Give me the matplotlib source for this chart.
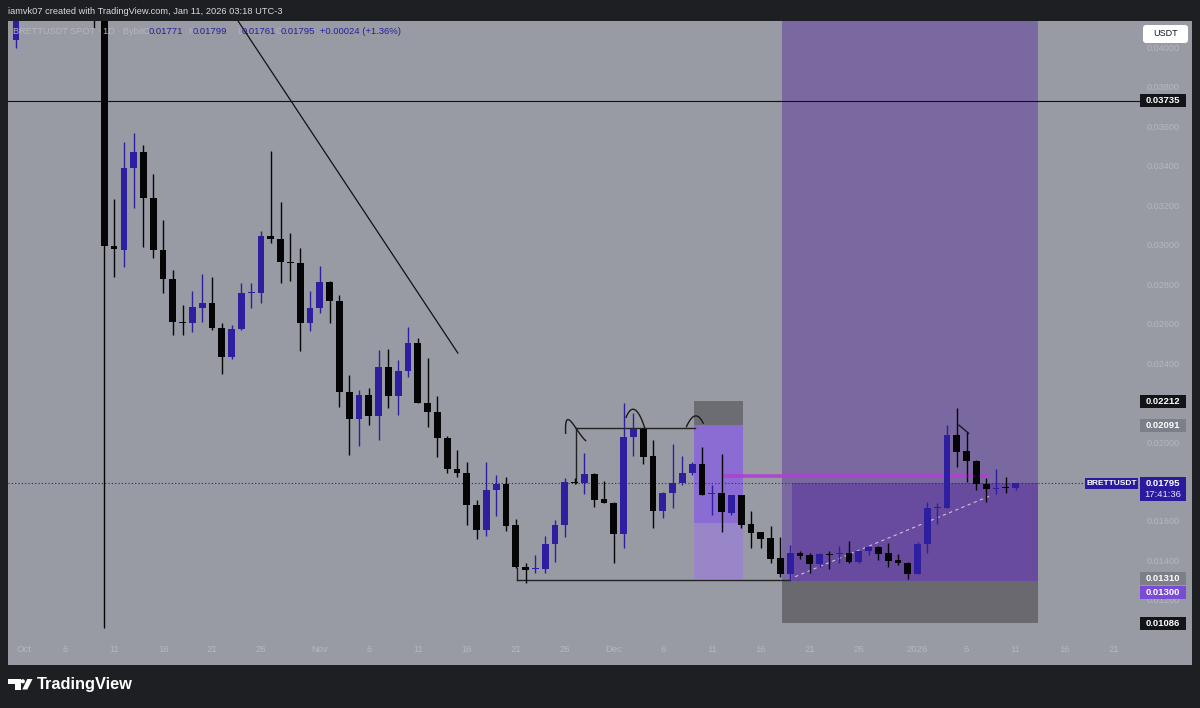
import numpy as np
import pandas as pd
import matplotlib
matplotlib.use("Agg")
import matplotlib.pyplot as plt
from matplotlib.patches import Rectangle, Polygon, Circle, FancyBboxPatch
import matplotlib.transforms as mtransforms

plt.rcParams['font.family'] = ['Liberation Sans', 'DejaVu Sans']

# daily candles BRETTUSDT (Bybit)
dates = ['2025-10-01', '2025-10-09'] + \
    [str(d.date()) for d in pd.date_range('2025-10-10', '2026-01-11')]
opens = [0.04043, 0.04400, 0.04300, 0.03000, 0.02980, 0.03396, 0.03474, 0.03241, 0.02979, 0.02830,
         0.02615, 0.02610, 0.02686, 0.02711, 0.02582, 0.02435, 0.02580, 0.02759, 0.02762, 0.03049,
         0.03033, 0.02919, 0.02911, 0.02607, 0.02686, 0.02816, 0.02720, 0.02259, 0.02120, 0.02243,
         0.02137, 0.02387, 0.02240, 0.02365, 0.02505, 0.02204, 0.02159, 0.02024, 0.01868, 0.01849,
         0.01686, 0.01559, 0.01762, 0.01791, 0.01584, 0.01373, 0.01360, 0.01360, 0.01488, 0.01583,
         0.01804, 0.01796, 0.01843, 0.01715, 0.01697, 0.01537, 0.02029, 0.02069, 0.01934, 0.01657,
         0.01745, 0.01796, 0.01846, 0.01892, 0.01740, 0.01745, 0.01647, 0.01736, 0.01589, 0.01547,
         0.01518, 0.01415, 0.01334, 0.01444, 0.01432, 0.01385, 0.01437, 0.01437, 0.01441, 0.01398,
         0.01452, 0.01471, 0.01444, 0.01407, 0.01393, 0.01336, 0.01488, 0.01669, 0.01672, 0.02041,
         0.01959, 0.01909, 0.01792, 0.01765, 0.01775, 0.01771]
highs = [0.04300, 0.04500, 0.04450, 0.03237, 0.03528, 0.03570, 0.03511, 0.03362, 0.03131, 0.02877,
         0.02700, 0.02771, 0.02855, 0.02843, 0.02610, 0.02598, 0.02813, 0.02813, 0.03076, 0.03480,
         0.03220, 0.03066, 0.02990, 0.02771, 0.02897, 0.02821, 0.02749, 0.02345, 0.02269, 0.02279,
         0.02472, 0.02475, 0.02421, 0.02587, 0.02531, 0.02432, 0.02238, 0.02035, 0.01965, 0.01905,
         0.01711, 0.01902, 0.01838, 0.01829, 0.01615, 0.01390, 0.01432, 0.01529, 0.01610, 0.01824,
         0.01823, 0.01948, 0.01846, 0.01809, 0.01702, 0.02204, 0.02151, 0.02078, 0.02015, 0.01753,
         0.01993, 0.01934, 0.01905, 0.01981, 0.01787, 0.01944, 0.01736, 0.01738, 0.01655, 0.01547,
         0.01581, 0.01525, 0.01483, 0.01454, 0.01441, 0.01441, 0.01454, 0.01479, 0.01503, 0.01458,
         0.01478, 0.01478, 0.01491, 0.01437, 0.01398, 0.01497, 0.01702, 0.01698, 0.02091, 0.02176,
         0.02054, 0.01914, 0.01821, 0.01867, 0.01829, 0.01799]
lows = [0.04003, 0.04104, 0.01062, 0.02842, 0.02894, 0.03190, 0.02995, 0.02936, 0.02759, 0.02548,
        0.02548, 0.02561, 0.02612, 0.02573, 0.02350, 0.02424, 0.02573, 0.02683, 0.02711, 0.03016,
        0.02810, 0.02823, 0.02468, 0.02569, 0.02658, 0.02607, 0.02184, 0.01939, 0.01985, 0.02091,
        0.02015, 0.02176, 0.02142, 0.02336, 0.02201, 0.02083, 0.01931, 0.01849, 0.01829, 0.01584,
        0.01512, 0.01529, 0.01630, 0.01555, 0.01368, 0.01289, 0.01342, 0.01339, 0.01398, 0.01522,
        0.01790, 0.01741, 0.01677, 0.01694, 0.01393, 0.01466, 0.01934, 0.01894, 0.01571, 0.01618,
        0.01669, 0.01787, 0.01840, 0.01736, 0.01635, 0.01550, 0.01635, 0.01568, 0.01466, 0.01466,
        0.01393, 0.01322, 0.01305, 0.01412, 0.01342, 0.01373, 0.01360, 0.01393, 0.01393, 0.01393,
        0.01432, 0.01407, 0.01370, 0.01381, 0.01309, 0.01336, 0.01441, 0.01589, 0.01669, 0.01880,
        0.01804, 0.01762, 0.01702, 0.01740, 0.01745, 0.01761]
closes = [0.04250, 0.04300, 0.03000, 0.02982, 0.03396, 0.03474, 0.03241, 0.02979, 0.02830, 0.02615,
          0.02610, 0.02688, 0.02711, 0.02582, 0.02435, 0.02580, 0.02762, 0.02764, 0.03051, 0.03033,
          0.02916, 0.02911, 0.02607, 0.02686, 0.02816, 0.02720, 0.02259, 0.02120, 0.02243, 0.02137,
          0.02387, 0.02240, 0.02365, 0.02505, 0.02204, 0.02159, 0.02024, 0.01868, 0.01849, 0.01686,
          0.01559, 0.01762, 0.01791, 0.01581, 0.01370, 0.01356, 0.01363, 0.01488, 0.01584, 0.01804,
          0.01796, 0.01843, 0.01711, 0.01694, 0.01537, 0.02032, 0.02069, 0.01931, 0.01657, 0.01745,
          0.01799, 0.01848, 0.01892, 0.01736, 0.01745, 0.01652, 0.01736, 0.01584, 0.01545, 0.01513,
          0.01410, 0.01334, 0.01444, 0.01429, 0.01385, 0.01436, 0.01432, 0.01444, 0.01398, 0.01454,
          0.01471, 0.01437, 0.01403, 0.01390, 0.01336, 0.01488, 0.01669, 0.01674, 0.02041, 0.01956,
          0.01909, 0.01792, 0.01765, 0.01773, 0.01771, 0.01795]

# grid labels on the price scale (0.022 and 0.018 sit under the tags)
price_ticks = [0.040, 0.038, 0.036, 0.034, 0.032, 0.030, 0.028, 0.026, 0.024,
               0.020, 0.016, 0.014, 0.012]
time_ticks = ['2025-10-01', '2025-10-06', '2025-10-11', '2025-10-16', '2025-10-21', '2025-10-26',
              '2025-11-01', '2025-11-06', '2025-11-11', '2025-11-16', '2025-11-21', '2025-11-26',
              '2025-12-01', '2025-12-06', '2025-12-11', '2025-12-16', '2025-12-21', '2025-12-26',
              '2026-01-01', '2026-01-06', '2026-01-11', '2026-01-16', '2026-01-21']
time_labels = ['Oct', '6', '11', '16', '21', '26', 'Nov', '6', '11', '16', '21', '26',
               'Dec', '6', '11', '16', '21', '26', '2026', '6', '11', '16', '21']

# drawings (date, price)
hline_price = 0.03735
trend = [('2025-10-23 15:00', 0.04142), ('2025-11-15 02:00', 0.02456)]
range_top = [('2025-11-27 03:00', 0.02076), ('2025-12-09 07:00', 0.02076)]
range_bot = [('2025-11-21 02:00', 0.01305), ('2025-12-19 00:00', 0.01305)]
humps = [[('2025-11-26 02:00', 0.02049), ('2025-11-26 08:00', 0.02119), ('2025-11-27 03:00', 0.02076), ('2025-11-28 03:00', 0.02012)],
         [('2025-12-02 06:00', 0.02130), ('2025-12-03 00:00', 0.02171), ('2025-12-03 16:00', 0.02137), ('2025-12-04 04:00', 0.02075)],
         [('2025-12-08 10:00', 0.02083), ('2025-12-09 07:00', 0.02137), ('2025-12-10 03:00', 0.02100)],
         [('2026-01-05 05:00', 0.02091), ('2026-01-06 05:00', 0.02049)]]
short_box = ('2025-12-09 04:00', '2025-12-14 04:00', 0.02212, 0.02091, 0.01593, 0.01310)
long_box = ('2025-12-18 04:00', '2026-01-13 07:00', 0.01086, 0.01300, 0.01795)
magenta = ('2025-12-12 03:00', '2026-01-08 02:00', 0.01833)
last_price = 0.01795

BULL = '#2e1ea0'
BEAR = '#050505'
BG = '#989ba3'
DARK = '#1e1f22'

day0 = pd.Timestamp('2025-10-01')
def dd(s):
    return (pd.Timestamp(s) - day0) / pd.Timedelta(days=1)

days = np.array([dd(d) for d in dates])
o = np.array(opens); h = np.array(highs); l = np.array(lows); c = np.array(closes)

fig = plt.figure(figsize=(12, 7.08), dpi=100, facecolor=DARK)
ax = fig.add_axes([8/1200, 43/708, 1184/1200, 644/708])
ax.set_facecolor(BG)
ax.set_xlim(-0.82, 120.0)
ax.set_ylim(0.008745, 0.041395)
ax.set_xticks([]); ax.set_yticks([])
for s in ax.spines.values():
    s.set_visible(False)
tr = mtransforms.blended_transform_factory(ax.transAxes, ax.transData)
px = mtransforms.Affine2D().scale(1/1200, -1/708).translate(0, 1) + fig.transFigure

# position tools
x0, x1, stop, entry, mid, target = short_box
ax.add_patch(Rectangle((dd(x0), entry), dd(x1)-dd(x0), stop-entry, fc='#6c6d72', ec='none', zorder=1))
ax.add_patch(Rectangle((dd(x0), mid), dd(x1)-dd(x0), entry-mid, fc='#8b6cd3', ec='none', zorder=1))
ax.add_patch(Rectangle((dd(x0), target), dd(x1)-dd(x0), mid-target, fc='#9886c9', ec='none', zorder=1))
x0, x1, stop, entry, cur = long_box
ax.add_patch(Rectangle((dd(x0), stop), dd(x1)-dd(x0), entry-stop, fc='#69696f', ec='none', zorder=1))
ax.add_patch(Rectangle((dd(x0), entry), dd(x1)-dd(x0), 0.05-entry, fc='#7a68a0', ec='none', zorder=1))
ax.add_patch(Rectangle((dd(x0)+1.05, entry), dd(x1)-dd(x0)-1.05, cur-entry, fc='#684a9e', ec='none', zorder=1))
ax.plot([dd('2025-12-19 12:00'), dd('2026-01-08 14:00')], [0.01322, 0.01736],
        color='#c9c6dc', lw=0.8, ls=(0, (3, 3)), zorder=2)
ax.plot([dd(magenta[0]), dd(magenta[1])], [magenta[2]]*2, color='#b03fd2', lw=2.6, alpha=0.9, zorder=2)

# lines
ax.plot([0, 0.956], [hline_price]*2, transform=tr, color='#111', lw=0.8, zorder=2)
ax.plot([0, 0.9096], [last_price]*2, transform=tr, color='#2b1ca0', lw=0.8, ls=(0, (1, 2)), zorder=2)
ax.plot([dd(p[0]) for p in trend], [p[1] for p in trend], color='#111', lw=0.9, zorder=2)
ax.plot([dd(p[0]) for p in range_top], [p[1] for p in range_top], color='#222', lw=1.0, zorder=2)
ax.plot([dd(p[0]) for p in range_bot], [p[1] for p in range_bot], color='#222', lw=1.0, zorder=2)
ax.plot([dd(range_bot[0][0])]*2, [0.01368, range_bot[0][1]], color='#222', lw=1.0, zorder=2)
ax.plot([dd(range_top[0][0])]*2, [range_top[0][1], 0.01797], color='#222', lw=1.0, zorder=2)
for hm in humps:
    xs = np.array([dd(p[0]) for p in hm]); ys = np.array([p[1] for p in hm])
    t = np.linspace(0, 1, 40)
    tk = np.linspace(0, 1, len(xs))
    if len(xs) > 2:
        xi = np.polyval(np.polyfit(tk, xs, len(xs)-1), t)
        yi = np.polyval(np.polyfit(tk, ys, len(xs)-1), t)
    else:
        xi, yi = xs, ys
    ax.plot(xi, yi, color='#1a1a1a', lw=1.0, zorder=5)

# candles
bull = c >= o
col = np.where(bull, BULL, BEAR)
ax.vlines(days, l, h, colors=col, lw=1.0, zorder=3)
ax.bar(days, np.maximum(np.abs(c-o), 0.00006), 0.68, bottom=np.minimum(o, c),
       color=col, linewidth=0, zorder=4)

# price scale
for p in price_ticks:
    ax.text(0.9755, p, f'{p:.5f}', transform=tr, ha='center', va='center',
            fontsize=6.6, color='#b5b8c0', zorder=6)
for d, lab in zip(time_ticks, time_labels):
    ax.text(dd(d), 0.0233, lab, transform=mtransforms.blended_transform_factory(ax.transData, ax.transAxes),
            ha='left' if lab == 'Oct' else 'center', va='center', fontsize=6.8, color='#b5b8c0')

def tag(p, txt, bg, xa=0.9561, xb=0.9949, hpx=13, dy=0.0, fs=6.8):
    hh = hpx * 0.0000507
    ax.add_patch(Rectangle((xa, p - hh/2 + dy), xb - xa, hh, transform=tr, fc=bg, ec='none', zorder=8))
    ax.text((xa+xb)/2, p + dy, txt, transform=tr, ha='center', va='center',
            fontsize=fs, color='white', fontweight='bold', zorder=9)

tag(0.03735, '0.03735', '#131418')
tag(0.02212, '0.02212', '#131418')
tag(0.02091, '0.02091', '#7c7f88')
tag(0.01310, '0.01310', '#7c7f88', dy=0.00005)
tag(0.01300, '0.01300', '#7a4cd6', dy=-0.00060)
tag(0.01086, '0.01086', '#131418')
tag(last_price, 'BRETTUSDT', '#2a1a9e', xa=0.9096, xb=0.9544, hpx=11, fs=6.0)
hh = 24 * 0.0000507
ax.add_patch(Rectangle((0.9561, last_price - 0.00018 - hh + 0.00050), 0.0388, hh, transform=tr,
                       fc='#2a1a9e', ec='none', zorder=8))
ax.text(0.9755, last_price, '0.01795', transform=tr, ha='center', va='center',
        fontsize=6.8, color='white', fontweight='bold', zorder=9)
ax.text(0.9755, last_price - 0.00057, '17:41:36', transform=tr, ha='center', va='center',
        fontsize=6.8, color='#e6e4f5', zorder=9)

# currency button
fig.add_artist(FancyBboxPatch((1143, 25), 45, 18, boxstyle='round,pad=0,rounding_size=3',
                              transform=px, fc='white', ec='none'))
fig.text(1165.5, 34, 'USDT', transform=px, ha='center', va='center', fontsize=6.5, color='#131722')

# header and legend
fig.text(8, 12, 'iamvk07 created with TradingView.com, Jan 11, 2026 03:18 UTC-3', transform=px,
         ha='left', va='center', fontsize=6.7, color='#d8d9dc')
fig.text(13, 32, 'BRETTUSDT SPOT · 1D · Bybit', transform=px, ha='left', va='center',
         fontsize=6.6, color='#b3b6be')
for xl, lab, xv, val in [(143, 'O', 149, '0.01771'), (188, 'H', 193, '0.01799'),
                         (237, 'L', 242, '0.01761'), (275, 'C', 281, '0.01795')]:
    fig.text(xl, 32, lab, transform=px, ha='left', va='center', fontsize=6.6, color='#b3b6be')
    fig.text(xv, 32, val, transform=px, ha='left', va='center', fontsize=6.8, color='#2b1ca0')
fig.text(320, 32, '+0.00024 (+1.36%)', transform=px, ha='left', va='center', fontsize=6.8, color='#2b1ca0')

# TradingView logo
fig.add_artist(Polygon([(8, 679), (20.5, 679), (20.5, 689.5), (15, 689.5), (15, 683.5), (8, 683.5)],
                       closed=True, transform=px, fc='white', ec='none'))
fig.add_artist(Circle((22.8, 681.3), 2.1, transform=px, fc='white', ec='none'))
fig.add_artist(Polygon([(27.3, 679), (32.5, 679), (27.3, 689.5), (22.3, 689.5)],
                       closed=True, transform=px, fc='white', ec='none'))
fig.text(37, 685, 'TradingView', transform=px, ha='left', va='center', fontsize=11.8,
         color='white', fontweight='bold')

fig.savefig('out.png', dpi=100, facecolor=DARK)
